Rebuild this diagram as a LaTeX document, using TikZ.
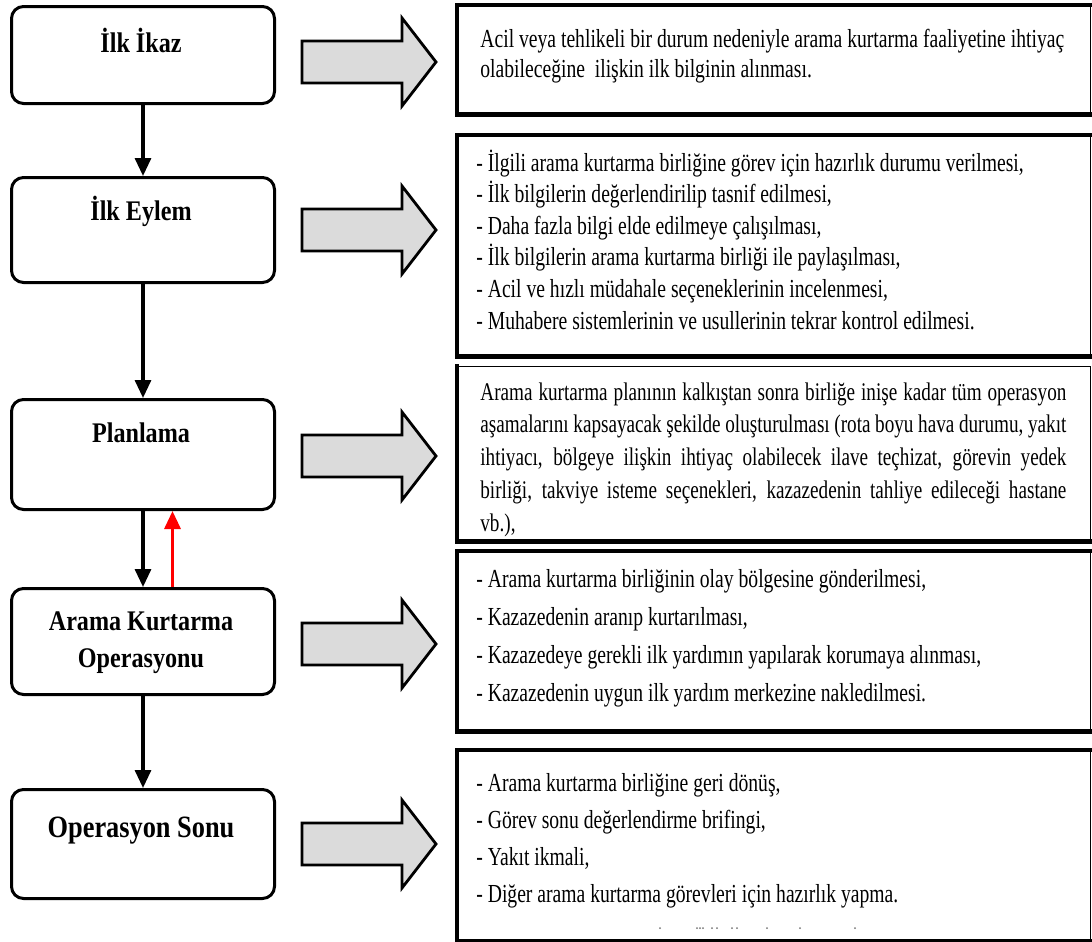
\documentclass[tikz,border=0pt]{standalone}
\usepackage{fontspec}
\setmainfont{Liberation Serif}
\newfontfamily\bodyfont[FakeStretch=0.755]{Liberation Serif}
\newfontfamily\labelfont[FakeStretch=0.85]{Liberation Serif}
\usetikzlibrary{arrows.meta}

\begin{document}
\begin{tikzpicture}[
  x=0.5pt, y=-0.5pt,
  stage/.style={draw, line width=1.5pt, rounded corners=6pt, fill=white,
    minimum width=131.5pt, inner sep=0pt, anchor=north west},
  stagelabel/.style={font=\labelfont\bfseries\fontsize{14.2pt}{17pt}\selectfont,
    anchor=base, inner sep=0pt},
  flow/.style={line width=1.6pt, -{Triangle[width=8pt,length=9pt]}},
  backflow/.style={line width=1.6pt, draw=red, -{Triangle[width=8pt,length=9pt,fill=red]}},
  blockarrow/.style={draw, line width=1.4pt, fill=black!14, line join=miter},
  descbox/.style={draw, line width=0.7pt, inner sep=0pt, anchor=north west,
    minimum width=316.5pt},
  heavy/.style={line width=2.4pt, line cap=rect},
  desc/.style={font=\bodyfont, anchor=base west, inner sep=0pt, align=left},
]
\useasboundingbox (0,0) rectangle (1092,942);

% ---- stages on the left ----
\node (b1) [stage, minimum height=48.5pt] at (10,5) {};
\node (b2) [stage, minimum height=52.5pt] at (10,176) {};
\node (b3) [stage, minimum height=55pt]   at (10,398) {};
\node (b4) [stage, minimum height=53pt]   at (10,587) {};
\node (b5) [stage, minimum height=54.5pt] at (10,788) {};

\node (l1) [stagelabel] at (141,52)  {İlk İkaz};
\node (l2) [stagelabel] at (141,220) {İlk Eylem};
\node (l3) [stagelabel] at (141,442) {Planlama};
\node (l4a) [stagelabel] at (141,630) {Arama Kurtarma};
\node (l4b) [stagelabel] at (141,667) {Operasyonu};
\node (l5) [stagelabel, font=\labelfont\bfseries\fontsize{15.5pt}{18pt}\selectfont] at (141,837) {Operasyon Sonu};

% ---- flow between stages ----
\draw[flow] (b1.south) -- (b2.north);
\draw[flow] (b2.south) -- (b3.north);
\draw[flow] (b3.south) -- (b4.north);
\draw[backflow] ([xshift=14.75pt]b4.north) -- ([xshift=14.75pt]b3.south);
\draw[flow] (b4.south) -- (b5.north);

% ---- block arrows pointing to the descriptions ----
\foreach \c in {62,230,456,644,844}{
  \draw[blockarrow] (302,\c-21) -- (402,\c-21) -- (402,\c-44) -- (436,\c)
    -- (402,\c+44) -- (402,\c+21) -- (302,\c+21) -- cycle;
}

% ---- description boxes ----
\node (d1) [descbox, minimum height=54pt]   at (457,5) {};
\node (d2) [descbox, minimum height=110pt]  at (457,135) {};
\node (d3) [descbox, minimum height=87pt]   at (457,366) {};
\node (d4) [descbox, minimum height=89.5pt] at (457,551) {};
\node (d5) [descbox, minimum height=95pt]   at (457,750) {};

\foreach \d in {d1,d2,d4,d5}{
  \draw[heavy] (\d.north east) -- (\d.north west) -- (\d.south west) -- (\d.south east);
}
\draw[heavy] (d3.north west) -- (d3.south west) -- (d3.south east);

% ---- description texts ----
\node (t1) [desc] at (480,47) {\parbox[t]{310pt}{\raggedright\fontsize{13pt}{15pt}\selectfont
  Acil veya tehlikeli bir durum nedeniyle arama kurtarma faaliyetine ihtiyaç\\
  olabileceğine\ \ ilişkin ilk bilginin alınması.}};

\node (t2) [desc] at (476,171) {\parbox[t]{310pt}{\raggedright\fontsize{13pt}{15.8pt}\selectfont
  - İlgili arama kurtarma birliğine görev için hazırlık durumu verilmesi,\\
  - İlk bilgilerin değerlendirilip tasnif edilmesi,\\
  - Daha fazla bilgi elde edilmeye çalışılması,\\
  - İlk bilgilerin arama kurtarma birliği ile paylaşılması,\\
  - Acil ve hızlı müdahale seçeneklerinin incelenmesi,\\
  - Muhabere sistemlerinin ve usullerinin tekrar kontrol edilmesi.}};

\node (t3) [desc] at (480,400) {\parbox[t]{293pt}{\raggedright\fontsize{12.7pt}{16.4pt}\selectfont
  \makebox[293pt][s]{Arama kurtarma planının kalkıştan sonra birliğe inişe kadar tüm operasyon}\\
  \makebox[293pt][s]{aşamalarını kapsayacak şekilde oluşturulması (rota boyu hava durumu, yakıt}\\
  \makebox[293pt][s]{ihtiyacı, bölgeye ilişkin ihtiyaç olabilecek ilave teçhizat, görevin yedek}\\
  \makebox[293pt][s]{birliği, takviye isteme seçenekleri, kazazedenin tahliye edileceği hastane}\\
  vb.),}};

\node (t4) [desc] at (476,587) {\parbox[t]{310pt}{\raggedright\fontsize{13pt}{19.1pt}\selectfont
  - Arama kurtarma birliğinin olay bölgesine gönderilmesi,\\
  - Kazazedenin aranıp kurtarılması,\\
  - Kazazedeye gerekli ilk yardımın yapılarak korumaya alınması,\\
  - Kazazedenin uygun ilk yardım merkezine nakledilmesi.}};

\node (t5) [desc] at (476,791) {\parbox[t]{310pt}{\raggedright\fontsize{13pt}{18.6pt}\selectfont
  - Arama kurtarma birliğine geri dönüş,\\
  - Görev sonu değerlendirme brifingi,\\
  - Yakıt ikmali,\\
  - Diğer arama kurtarma görevleri için hazırlık yapma.}};

% remnants of a clipped line at the foot of the last box
\foreach \x in {660,697,700,703,712,717,732,737,767,800,855}{
  \fill[black!55] (\x,928) circle (0.5pt);
}
\end{tikzpicture}
\end{document}
